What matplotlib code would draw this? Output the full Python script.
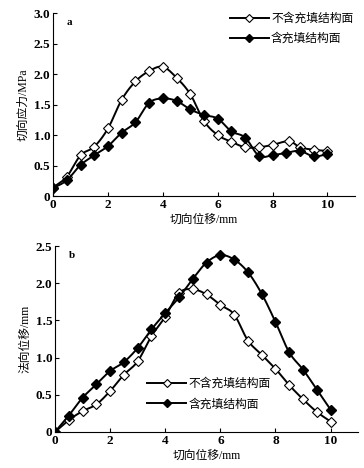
#!/usr/bin/env python3
import matplotlib
matplotlib.use("Agg")
import matplotlib.pyplot as plt
import numpy as np

plt.rcParams['font.family'] = ['Liberation Serif', 'Noto Sans CJK SC']

LABEL_OPEN = "不含充填结构面"
LABEL_FILLED = "含充填结构面"

# panel a: shear stress vs shear displacement
a_x_open = [0, 0.5, 1, 1.5, 2, 2.5, 3, 3.5, 4, 4.5, 5, 5.5, 6, 6.5, 7, 7.5, 8, 8.6, 9, 9.5, 10]
a_y_open = [0.14, 0.32, 0.67, 0.81, 1.11, 1.58, 1.88, 2.05, 2.12, 1.94, 1.67, 1.23, 1.0, 0.89,
            0.8, 0.8, 0.84, 0.9, 0.8, 0.76, 0.74]
a_x_filled = [0, 0.5, 1, 1.5, 2, 2.5, 3, 3.5, 4, 4.5, 5, 5.5, 6, 6.5, 7, 7.5, 8, 8.5, 9, 9.5, 10]
a_y_filled = [0.13, 0.26, 0.51, 0.67, 0.82, 1.04, 1.21, 1.53, 1.6, 1.56, 1.42, 1.33, 1.27, 1.06,
              0.96, 0.66, 0.67, 0.71, 0.74, 0.65, 0.69]

# panel b: normal displacement vs shear displacement
b_x = [0, 0.5, 1, 1.5, 2, 2.5, 3, 3.5, 4, 4.5, 5, 5.5, 6, 6.5, 7, 7.5, 8, 8.5, 9, 9.5, 10]
b_y_open = [0, 0.16, 0.28, 0.37, 0.55, 0.77, 0.95, 1.29, 1.55, 1.87, 1.92, 1.85, 1.71, 1.58,
            1.23, 1.04, 0.85, 0.63, 0.44, 0.27, 0.14]
b_y_filled = [0, 0.22, 0.46, 0.64, 0.82, 0.94, 1.13, 1.38, 1.6, 1.81, 2.06, 2.28, 2.38, 2.32,
              2.15, 1.86, 1.48, 1.07, 0.84, 0.57, 0.30]


def smooth(x, y, n=12):
    """Catmull-Rom curve through the points, only for drawing the line"""
    x = np.asarray(x, float)
    y = np.asarray(y, float)
    px = np.concatenate([[2 * x[0] - x[1]], x, [2 * x[-1] - x[-2]]])
    py = np.concatenate([[2 * y[0] - y[1]], y, [2 * y[-1] - y[-2]]])
    t = np.linspace(0, 1, n, endpoint=False)
    xs, ys = [], []
    for i in range(1, len(px) - 2):
        for p, out in ((px, xs), (py, ys)):
            p0, p1, p2, p3 = p[i - 1], p[i], p[i + 1], p[i + 2]
            out.extend(0.5 * (2 * p1 + (-p0 + p2) * t + (2 * p0 - 5 * p1 + 4 * p2 - p3) * t ** 2
                              + (-p0 + 3 * p1 - 3 * p2 + p3) * t ** 3))
    xs.append(x[-1])
    ys.append(y[-1])
    return xs, ys


def draw(ax, x1, y1, x2, y2):
    sx, sy = smooth(x1, y1)
    ax.plot(sx, sy, color='black', lw=1.4)
    ax.plot(x1, y1, ls='none', marker='D', ms=5, mfc='white', mec='black', mew=0.8)
    sx, sy = smooth(x2, y2)
    ax.plot(sx, sy, color='black', lw=1.4)
    ax.plot(x2, y2, ls='none', marker='D', ms=5.5, mfc='black', mec='black')
    # legend proxies
    h1, = ax.plot([], [], color='black', lw=1.4, marker='D', ms=4, mfc='white', mec='black',
                  mew=0.8, label=LABEL_OPEN)
    h2, = ax.plot([], [], color='black', lw=1.4, marker='D', ms=4.5, mfc='black', mec='black',
                  label=LABEL_FILLED)
    return [h1, h2]


def style(ax, ymax, yticks, ylabels):
    ax.set_xlim(0, 11)
    ax.set_ylim(0, ymax)
    ax.spines['top'].set_visible(False)
    ax.spines['right'].set_visible(False)
    ax.set_xticks([0, 2, 4, 6, 8, 10])
    ax.set_yticks(yticks)
    ax.set_yticklabels(ylabels)
    ax.tick_params(direction='in', length=3, labelsize=9.5, pad=2)
    for lab in ax.get_xticklabels() + ax.get_yticklabels():
        lab.set_fontweight('bold')
    ax.set_xlabel("切向位移/mm", fontsize=8.5, labelpad=2)


fig = plt.figure(figsize=(3.64, 4.68), dpi=100)

ax1 = fig.add_axes([0.146, 0.581, 0.829, 0.391])
handles = draw(ax1, a_x_open, a_y_open, a_x_filled, a_y_filled)
style(ax1, 3.0, [0, 0.5, 1.0, 1.5, 2.0, 2.5, 3.0], ["0", "0.5", "1.0", "1.5", "2.0", "2.5", "3.0"])
ax1.set_ylabel("切向应力/MPa", fontsize=8.5, labelpad=3)
ax1.text(0.045, 0.975, "a", transform=ax1.transAxes, fontsize=8, fontweight='bold', va='top')
ax1.legend(handles=handles, loc='upper right', bbox_to_anchor=(1.03, 1.06), frameon=False,
           fontsize=8.5, handlelength=3.3, handletextpad=0.2, labelspacing=0.7)

ax2 = fig.add_axes([0.151, 0.077, 0.833, 0.397])
handles = draw(ax2, b_x, b_y_open, b_x, b_y_filled)
style(ax2, 2.5, [0, 0.5, 1.0, 1.5, 2.0, 2.5], ["0", "0.5", "1.0", "1.5", "2.0", "2.5"])
ax2.set_ylabel("法向位移/mm", fontsize=8.5, labelpad=3)
ax2.text(0.045, 0.975, "b", transform=ax2.transAxes, fontsize=8, fontweight='bold', va='top')
ax2.legend(handles=handles, loc='lower left', bbox_to_anchor=(0.27, 0.06), frameon=False,
           fontsize=8.5, handlelength=3.3, handletextpad=0.2, labelspacing=0.7)

fig.savefig("out.png", dpi=100)
